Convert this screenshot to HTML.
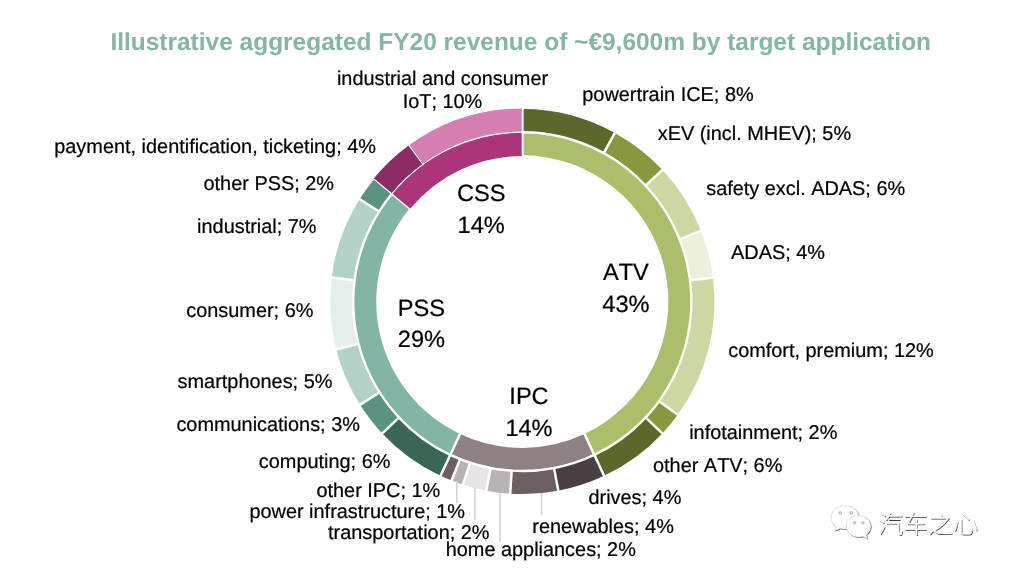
<!DOCTYPE html>
<html lang="en">
<head>
<meta charset="utf-8">
<title>Illustrative aggregated FY20 revenue by target application</title>
<style>
html,body{margin:0;padding:0;background:#fff;}
body{width:1010px;height:568px;overflow:hidden;font-family:"Liberation Sans","Noto Sans CJK SC",sans-serif;}
svg{display:block;font-kerning:none;text-rendering:geometricPrecision;}
.title{font-weight:bold;font-size:24.47px;fill:#84B5A5;}
.lab text{font-size:19.9px;fill:#000;stroke:#000;stroke-width:0.22px;}
.ctr text{font-size:23.6px;fill:#000;text-anchor:middle;stroke:#000;stroke-width:0.22px;}
.sep line{stroke:#fff;}
.ldr line{stroke:#D6D0D2;stroke-width:1.5;}
.wm,.wms{font-family:"Liberation Sans","Noto Sans CJK SC",sans-serif;font-size:25px;font-weight:300;}
.wms{fill:#3c3c3c;}
.wm{fill:#fff;stroke:#dcdcdc;stroke-width:0.4;paint-order:stroke fill;}
</style>
</head>
<body>
<svg width="1010" height="568" viewBox="0 0 1010 568" font-family="'Liberation Sans','Noto Sans CJK SC',sans-serif">
<rect width="1010" height="568" fill="#fff"/>
<text class="title" x="110.4" y="50">Illustrative aggregated FY20 revenue of ~€9,600m by target application</text>
<g transform="translate(522.3,0) scale(0.9982,1) translate(-522.3,0)">
<g class="rings">
<path d="M522.30 133.40A168.2 168.2 0 0 1 593.92 453.79L584.59 433.98A146.3 146.3 0 0 0 522.30 155.30Z" fill="#ABBE69"/>
<path d="M593.92 453.79A168.2 168.2 0 0 1 450.68 453.79L460.01 433.98A146.3 146.3 0 0 0 584.59 433.98Z" fill="#8F8083"/>
<path d="M450.68 453.79A168.2 168.2 0 0 1 392.70 194.39L409.57 208.34A146.3 146.3 0 0 0 460.01 433.98Z" fill="#82B5A5"/>
<path d="M392.24 194.00A168.8 168.8 0 0 1 522.30 132.80L522.30 155.95A145.65 145.65 0 0 0 410.07 208.76Z" fill="#AB3579"/>
<path d="M522.30 109.10A192.5 192.5 0 0 1 615.04 132.91L604.49 152.10A170.6 170.6 0 0 0 522.30 131.00Z" fill="#5C682B"/>
<path d="M615.04 132.91A192.5 192.5 0 0 1 662.63 169.82L646.66 184.82A170.6 170.6 0 0 0 604.49 152.10Z" fill="#87983F"/>
<path d="M662.63 169.82A192.5 192.5 0 0 1 701.28 230.74L680.92 238.80A170.6 170.6 0 0 0 646.66 184.82Z" fill="#CCD8A2"/>
<path d="M701.28 230.74A192.5 192.5 0 0 1 713.28 277.47L691.55 280.22A170.6 170.6 0 0 0 680.92 238.80Z" fill="#ECF0DD"/>
<path d="M713.28 277.47A192.5 192.5 0 0 1 678.04 414.75L660.32 401.88A170.6 170.6 0 0 0 691.55 280.22Z" fill="#CCD8A2"/>
<path d="M678.04 414.75A192.5 192.5 0 0 1 662.63 433.38L646.66 418.38A170.6 170.6 0 0 0 660.32 401.88Z" fill="#87983F"/>
<path d="M662.63 433.38A192.5 192.5 0 0 1 604.26 475.78L594.94 455.96A170.6 170.6 0 0 0 646.66 418.38Z" fill="#5C682B"/>
<path d="M604.26 475.78A192.5 192.5 0 0 1 558.37 490.69L554.27 469.18A170.6 170.6 0 0 0 594.94 455.96Z" fill="#4A4043"/>
<path d="M558.37 490.69A192.5 192.5 0 0 1 510.21 493.72L511.59 471.86A170.6 170.6 0 0 0 554.27 469.18Z" fill="#6E5E62"/>
<path d="M510.21 493.72A192.5 192.5 0 0 1 486.23 490.69L490.33 469.18A170.6 170.6 0 0 0 511.59 471.86Z" fill="#BBB2B4"/>
<path d="M486.23 490.69A192.5 192.5 0 0 1 462.81 484.68L469.58 463.85A170.6 170.6 0 0 0 490.33 469.18Z" fill="#E7E4E5"/>
<path d="M462.81 484.68A192.5 192.5 0 0 1 451.44 480.58L459.50 460.22A170.6 170.6 0 0 0 469.58 463.85Z" fill="#BBB2B4"/>
<path d="M451.44 480.58A192.5 192.5 0 0 1 440.34 475.78L449.66 455.96A170.6 170.6 0 0 0 459.50 460.22Z" fill="#6E5E62"/>
<path d="M440.34 475.78A192.5 192.5 0 0 1 381.97 433.38L397.94 418.38A170.6 170.6 0 0 0 449.66 455.96Z" fill="#3A6656"/>
<path d="M381.97 433.38A192.5 192.5 0 0 1 359.77 404.75L378.26 393.01A170.6 170.6 0 0 0 397.94 418.38Z" fill="#5A9381"/>
<path d="M359.77 404.75A192.5 192.5 0 0 1 335.85 349.47L357.06 344.03A170.6 170.6 0 0 0 378.26 393.01Z" fill="#B3D1C7"/>
<path d="M335.85 349.47A192.5 192.5 0 0 1 331.32 277.47L353.05 280.22A170.6 170.6 0 0 0 357.06 344.03Z" fill="#E5EEEB"/>
<path d="M331.32 277.47A192.5 192.5 0 0 1 359.77 198.45L378.26 210.19A170.6 170.6 0 0 0 353.05 280.22Z" fill="#B3D1C7"/>
<path d="M359.77 198.45A192.5 192.5 0 0 1 373.98 178.90L390.85 192.86A170.6 170.6 0 0 0 378.26 210.19Z" fill="#5A9381"/>
<path d="M373.48 178.48A193.15 193.15 0 0 1 408.77 145.34L422.38 164.07A170.0 170.0 0 0 0 391.31 193.24Z" fill="#8C2C66"/>
<path d="M408.77 145.34A193.15 193.15 0 0 1 522.30 108.45L522.30 131.60A170.0 170.0 0 0 0 422.38 164.07Z" fill="#D67DB2"/>
</g>
<g class="sep">
<line x1="522.65" y1="157.45" x2="522.65" y2="131.30" stroke-width="1.9"/>
<line x1="583.68" y1="432.03" x2="594.81" y2="455.69" stroke-width="2.5"/>
<line x1="460.92" y1="432.03" x2="449.79" y2="455.69" stroke-width="2.5"/>
<line x1="410.85" y1="210.18" x2="390.70" y2="193.51" stroke-width="1.2"/>
<line x1="522.65" y1="133.10" x2="522.65" y2="106.95" stroke-width="1.9"/>
<line x1="603.48" y1="153.94" x2="616.07" y2="131.03" stroke-width="2.5"/>
<line x1="645.13" y1="186.25" x2="664.19" y2="168.35" stroke-width="2.5"/>
<line x1="678.97" y1="239.57" x2="703.28" y2="229.94" stroke-width="2.5"/>
<line x1="689.47" y1="280.48" x2="715.42" y2="277.20" stroke-width="2.5"/>
<line x1="658.62" y1="400.64" x2="679.78" y2="416.01" stroke-width="2.5"/>
<line x1="645.13" y1="416.95" x2="664.19" y2="434.85" stroke-width="2.5"/>
<line x1="594.04" y1="454.06" x2="605.18" y2="477.72" stroke-width="2.5"/>
<line x1="553.87" y1="467.12" x2="558.77" y2="492.80" stroke-width="2.5"/>
<line x1="511.72" y1="469.77" x2="510.08" y2="495.87" stroke-width="2.5"/>
<line x1="490.73" y1="467.12" x2="485.83" y2="492.80" stroke-width="2.5"/>
<line x1="470.23" y1="461.85" x2="462.15" y2="486.72" stroke-width="2.5"/>
<line x1="460.27" y1="458.27" x2="450.64" y2="482.58" stroke-width="2.5"/>
<line x1="450.56" y1="454.06" x2="439.42" y2="477.72" stroke-width="2.5"/>
<line x1="399.47" y1="416.95" x2="380.41" y2="434.85" stroke-width="2.5"/>
<line x1="380.03" y1="391.89" x2="357.95" y2="405.90" stroke-width="2.5"/>
<line x1="359.09" y1="343.50" x2="333.77" y2="350.01" stroke-width="2.5"/>
<line x1="355.13" y1="280.48" x2="329.18" y2="277.20" stroke-width="2.5"/>
<line x1="379.60" y1="211.99" x2="357.52" y2="197.98" stroke-width="2.5"/>
<line x1="392.21" y1="194.50" x2="372.06" y2="177.83" stroke-width="1.1"/>
<line x1="423.26" y1="165.28" x2="407.89" y2="144.12" stroke-width="1.1"/>
</g>
</g>
<g class="ldr">
<line x1="456.8" y1="481" x2="456.8" y2="503"/>
<line x1="475.1" y1="488" x2="475.1" y2="520"/>
<line x1="500" y1="493" x2="500" y2="542"/>
<line x1="541.5" y1="493" x2="541.5" y2="515"/>
</g>
<g class="lab">
<text x="442.5" y="85.2" text-anchor="middle">industrial and consumer</text>
<text x="442.5" y="108.2" text-anchor="middle">IoT; 10%</text>
<text x="376" y="152.7" text-anchor="end">payment, identification, ticketing; 4%</text>
<text x="334" y="189.7" text-anchor="end">other PSS; 2%</text>
<text x="316.5" y="232.7" text-anchor="end">industrial; 7%</text>
<text x="313.4" y="317.2" text-anchor="end">consumer; 6%</text>
<text x="332.4" y="388.2" text-anchor="end">smartphones; 5%</text>
<text x="359.9" y="430.7" text-anchor="end">communications; 3%</text>
<text x="390.4" y="468" text-anchor="end">computing; 6%</text>
<text x="440.3" y="496.5" text-anchor="end">other IPC; 1%</text>
<text x="465" y="518" text-anchor="end">power infrastructure; 1%</text>
<text x="489.5" y="538.5" text-anchor="end">transportation; 2%</text>
<text x="445.7" y="556" text-anchor="start">home appliances; 2%</text>
<text x="532.3" y="532.5" text-anchor="start">renewables; 4%</text>
<text x="588.5" y="504.2" text-anchor="start">drives; 4%</text>
<text x="653" y="472.2" text-anchor="start">other ATV; 6%</text>
<text x="689.2" y="439.2" text-anchor="start">infotainment; 2%</text>
<text x="728.2" y="357.2" text-anchor="start">comfort, premium; 12%</text>
<text x="731" y="258.6" text-anchor="start">ADAS; 4%</text>
<text x="706.2" y="195.4" text-anchor="start">safety excl. ADAS; 6%</text>
<text x="657.7" y="140" text-anchor="start">xEV (incl. MHEV); 5%</text>
<text x="582.3" y="101" text-anchor="start">powertrain ICE; 8%</text>
</g>
<g class="ctr">
<text x="481.2" y="201.3">CSS</text>
<text x="481.2" y="233.1">14%</text>
<text x="625.9" y="280.2">ATV</text>
<text x="625.9" y="312.2">43%</text>
<text x="421.4" y="315.5">PSS</text>
<text x="421.4" y="347.4">29%</text>
<text x="529.0" y="403.5">IPC</text>
<text x="529.0" y="435.6">14%</text>
</g>
<g class="wmicon">
<g transform="translate(0.7,0.7)" fill="#4a4a4a" stroke="none">
<path d="M845 505.6c-7.7 0-13.9 5.3-13.9 11.9c0 3.7 2 7 5.100 9.200l-1.600 4.400l5.300-2.600c1.600 0.500 3.300 0.800 5.100 0.800c7.700 0 13.900-5.300 13.900-11.800c0-6.600-6.200-11.900-13.900-11.900z"/>
<path d="M858.600 515.400c-6.800 0-12.300 4.900-12.300 10.900c0 6 5.500 10.900 12.300 10.900c1.500 0 3-0.200 4.300-0.700l4.700 2.400l-1.300-4c2.800-2 4.600-5.100 4.600-8.600c0-6-5.500-10.900-12.300-10.900z"/>
</g>
<path d="M845 505.600c-7.700 0-13.900 5.300-13.900 11.900c0 3.700 2 7 5.100 9.200l-1.600 4.400l5.300-2.600c1.600 0.500 3.300 0.800 5.100 0.800c7.700 0 13.900-5.300 13.900-11.800c0-6.600-6.200-11.900-13.900-11.900z" fill="#fff" stroke="#c8c8c8" stroke-width="0.6"/>
<path d="M858.600 515.400c-6.800 0-12.300 4.900-12.300 10.900c0 6 5.500 10.900 12.300 10.900c1.500 0 3-0.200 4.300-0.700l4.700 2.400l-1.300-4c2.800-2 4.600-5.100 4.600-8.600c0-6-5.500-10.900-12.300-10.900z" fill="#fff" stroke="#c8c8c8" stroke-width="0.6"/>
<g fill="#fff" stroke="#8a8a8a" stroke-width="0.7">
<circle cx="840.200" cy="512.900" r="1.300"/><circle cx="851.200" cy="512.900" r="1.300"/>
<circle cx="854.500" cy="522.700" r="1.200"/><circle cx="862.800" cy="522.700" r="1.200"/>
</g>
</g>
<text class="wms" x="878.700" y="533.900">汽车之心</text>
<text class="wm" x="878" y="533.200">汽车之心</text>
</svg>
</body>
</html>
